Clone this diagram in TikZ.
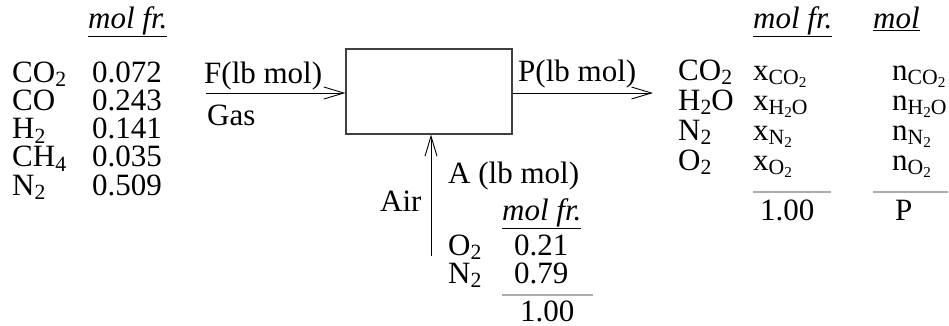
\documentclass[tikz,border=0pt]{standalone}
\usepackage{fontspec}
\setmainfont{Liberation Serif}
\usepackage{graphicx}
\usetikzlibrary{arrows.meta}
\newcommand{\sub}[1]{\raisebox{-0.15em}{\scalebox{0.7}{#1}}}
\newcommand{\hdr}[1]{\underline{\textit{#1}}}
\tikzset{
  txt/.style={anchor=base west,inner sep=0pt,font=\fontsize{31}{31}\selectfont},
  unit/.style={draw=black!75,line width=1.2pt,minimum width=166pt,minimum height=85pt,inner sep=0pt},
  flow/.style={-{Straight Barb[length=20pt,width=12pt]},line width=0.9pt},
  sumline/.style={gray!65,line width=2.4pt},
}

\begin{document}
\begin{tikzpicture}[x=1pt,y=-1pt]
  \useasboundingbox (0,0) rectangle (949,325);
  % process unit and streams
  \node[unit] (box) at (429,91.5) {};
  \coordinate (fin) at (206,93);
  \coordinate (pout) at (653,93);
  \coordinate (ain) at (431,256);
  \draw[flow] (fin) -- (fin -| box.west);
  \draw[flow] (pout -| box.east) -- (pout);
  \draw[flow] (ain) -- (ain |- box.south);
  \node[txt] (flab) at (204,83) {F(lb mol)};
  \node[txt] (gas) at (207,125) {Gas};
  \node[txt] (plab) at (518,81) {P(lb mol)};
  \node[txt] (air) at (380,211) {Air};
  \node[txt] (alab) at (448,183) {A (lb mol)};
  % feed gas
  \node[txt] (ghdr) at (88,28) {\hdr{mol fr.}};
  \foreach \sp/\fr [count=\i from 0] in {CO\sub{2}/0.072,CO/0.243,H\sub{2}/0.141,CH\sub{4}/0.035,N\sub{2}/0.509}{
    \node[txt] (gs\i) at (12,{82+28.25*\i}) {\sp};
    \node[txt] (gx\i) at (92,{82+28.25*\i}) {\fr};
  }
  % air
  \node[txt] (ahdr) at (502,220) {\hdr{mol fr.}};
  \node[txt] (as0) at (448,255) {O\sub{2}};
  \node[txt] (ax0) at (514,255) {0.21};
  \node[txt] (as1) at (448,283) {N\sub{2}};
  \node[txt] (ax1) at (514,283) {0.79};
  \draw[sumline] (502,295) -- (593,295);
  \node[txt] (atot) at (520,321) {1.00};
  % product
  \node[txt] (phdr) at (753,28) {\hdr{mol fr.}};
  \node[txt] (nhdr) at (873,28) {\hdr{mol}};
  \foreach \sp [count=\i from 0] in {CO\sub{2},H\sub{2}O,N\sub{2},O\sub{2}}{
    \node[txt] (ps\i) at (678,{80+30*\i}) {\sp};
    \node[txt] (px\i) at (753,{80+30*\i}) {x\sub{\sp}};
    \node[txt] (pn\i) at (892,{80+30*\i}) {n\sub{\sp}};
  }
  \draw[sumline] (753,192) -- (831,192);
  \draw[sumline] (873,192) -- (948,192);
  \node[txt] (ptot) at (760,220) {1.00};
  \node[txt] (pP) at (895,220) {P};
\end{tikzpicture}
\end{document}
